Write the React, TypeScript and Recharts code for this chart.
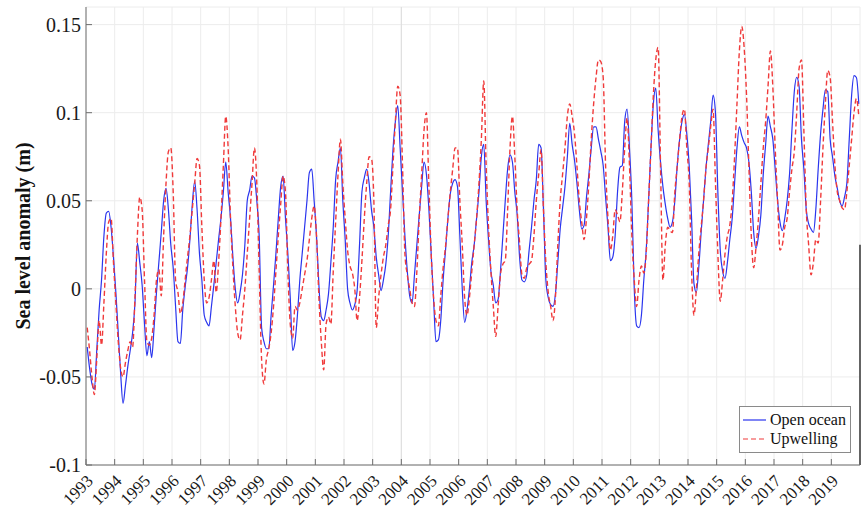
import { CartesianGrid, Line, LineChart, ReferenceLine, XAxis, YAxis } from 'recharts';

// monthly sea level anomaly (m), one row of 12 months per year
const YEARS = [
  1993, 1994, 1995, 1996, 1997, 1998, 1999, 2000, 2001, 2002, 2003, 2004, 2005, 2006,
  2007, 2008, 2009, 2010, 2011, 2012, 2013, 2014, 2015, 2016, 2017, 2018, 2019,
];

const OPEN_OCEAN = [
  [-0.033, -0.045, -0.054, -0.057, -0.035, -0.012, 0.005, 0.03, 0.043, 0.044, 0.035, 0.018],
  [-0.002, -0.025, -0.048, -0.065, -0.055, -0.044, -0.035, -0.025, -0.008, 0.026, 0.015, 0.002],
  [-0.02, -0.038, -0.03, -0.039, -0.022, -0.002, 0.015, 0.032, 0.05, 0.057, 0.045, 0.025],
  [0.012, -0.01, -0.03, -0.031, -0.012, 0.001, 0.012, 0.028, 0.048, 0.061, 0.045, 0.02],
  [0.005, -0.015, -0.019, -0.021, -0.01, 0.002, 0.015, 0.028, 0.04, 0.055, 0.072, 0.055],
  [0.04, 0.018, 0.0, -0.008, -0.002, 0.008, 0.025, 0.05, 0.056, 0.064, 0.063, 0.05],
  [0.03, -0.022, -0.03, -0.034, -0.034, -0.015, 0.002, 0.02, 0.04, 0.058, 0.064, 0.04],
  [0.02, -0.005, -0.035, -0.03, -0.015, 0.005, 0.02, 0.035, 0.05, 0.066, 0.068, 0.05],
  [0.03, 0.002, -0.016, -0.018, -0.012, -0.003, 0.015, 0.035, 0.062, 0.072, 0.08, 0.05],
  [0.028, 0.0, -0.008, -0.012, -0.009, -0.001, 0.025, 0.055, 0.063, 0.068, 0.06, 0.045],
  [0.035, 0.018, 0.008, -0.001, 0.005, 0.014, 0.03, 0.055, 0.079, 0.095, 0.104, 0.08],
  [0.055, 0.03, 0.01, -0.004, -0.008, 0.008, 0.025, 0.042, 0.058, 0.072, 0.065, 0.046],
  [0.02, -0.006, -0.03, -0.029, -0.018, 0.005, 0.022, 0.04, 0.054, 0.06, 0.062, 0.058],
  [0.03, 0.0, -0.019, -0.012, 0.0, 0.015, 0.025, 0.04, 0.055, 0.075, 0.082, 0.05],
  [0.028, 0.01, 0.002, -0.008, -0.006, 0.01, 0.03, 0.05, 0.068, 0.076, 0.072, 0.055],
  [0.042, 0.018, 0.005, 0.004, 0.008, 0.022, 0.035, 0.05, 0.062, 0.082, 0.08, 0.045],
  [0.005, -0.005, -0.009, -0.01, -0.003, 0.015, 0.034, 0.046, 0.058, 0.075, 0.094, 0.082],
  [0.073, 0.06, 0.045, 0.034, 0.036, 0.052, 0.065, 0.08, 0.092, 0.092, 0.085, 0.078],
  [0.07, 0.052, 0.035, 0.016, 0.018, 0.03, 0.055, 0.069, 0.07, 0.095, 0.102, 0.08],
  [0.05, 0.0, -0.021, -0.022, -0.015, 0.005, 0.022, 0.05, 0.08, 0.105, 0.114, 0.09],
  [0.072, 0.058, 0.048, 0.04, 0.035, 0.038, 0.05, 0.07, 0.085, 0.095, 0.099, 0.088],
  [0.07, 0.04, 0.003, -0.002, 0.012, 0.032, 0.05, 0.068, 0.082, 0.095, 0.11, 0.1],
  [0.055, 0.022, 0.01, 0.006, 0.015, 0.028, 0.04, 0.06, 0.08, 0.092, 0.087, 0.083],
  [0.08, 0.072, 0.055, 0.032, 0.023, 0.03, 0.042, 0.065, 0.082, 0.098, 0.092, 0.085],
  [0.068, 0.05, 0.038, 0.033, 0.04, 0.05, 0.065, 0.09, 0.112, 0.12, 0.115, 0.085],
  [0.068, 0.045, 0.037, 0.034, 0.032, 0.045, 0.068, 0.088, 0.102, 0.113, 0.112, 0.085],
  [0.075, 0.064, 0.057, 0.05, 0.047, 0.052, 0.06, 0.085, 0.11, 0.121, 0.12, 0.105],
];

const UPWELLING = [
  [-0.022, -0.035, -0.05, -0.06, -0.04, -0.018, -0.032, -0.008, 0.02, 0.038, 0.04, 0.015],
  [-0.008, -0.03, -0.045, -0.05, -0.042, -0.035, -0.03, -0.033, -0.005, 0.03, 0.052, 0.045],
  [0.005, -0.03, -0.032, -0.028, -0.015, 0.005, 0.011, -0.004, 0.03, 0.06, 0.078, 0.08],
  [0.055, 0.005, -0.002, -0.014, -0.008, 0.005, 0.018, 0.03, 0.045, 0.06, 0.074, 0.07],
  [0.035, 0.005, -0.008, -0.005, 0.005, 0.016, -0.002, 0.015, 0.04, 0.07, 0.098, 0.08],
  [0.04, 0.012, -0.01, -0.025, -0.029, -0.015, 0.0, 0.02, 0.04, 0.06, 0.08, 0.06],
  [0.01, -0.04, -0.054, -0.04, -0.034, -0.025, -0.01, 0.01, 0.03, 0.048, 0.064, 0.055],
  [0.01, -0.02, -0.028, -0.01, -0.012, -0.008, 0.0, 0.008, 0.016, 0.028, 0.04, 0.047],
  [0.03, -0.005, -0.03, -0.046, -0.02, -0.016, -0.02, 0.01, 0.038, 0.065, 0.085, 0.06],
  [0.04, 0.022, 0.013, 0.009, 0.0, -0.018, -0.005, 0.016, 0.04, 0.06, 0.075, 0.074],
  [0.05, -0.022, -0.005, 0.008, 0.018, 0.025, 0.036, 0.045, 0.07, 0.095, 0.115, 0.11],
  [0.07, 0.02, 0.008, 0.0, -0.008, -0.01, 0.01, 0.04, 0.065, 0.09, 0.1, 0.06],
  [0.02, -0.005, -0.018, -0.021, -0.004, 0.012, 0.024, 0.04, 0.055, 0.068, 0.08, 0.08],
  [0.05, 0.025, -0.005, -0.015, -0.005, 0.01, 0.025, 0.04, 0.06, 0.085, 0.118, 0.07],
  [0.035, 0.01, -0.01, -0.027, -0.01, 0.008, 0.014, 0.016, 0.045, 0.08, 0.098, 0.075],
  [0.045, 0.026, 0.008, 0.006, 0.012, 0.014, 0.016, 0.03, 0.05, 0.065, 0.079, 0.045],
  [0.015, -0.002, -0.01, -0.018, -0.005, 0.025, 0.05, 0.065, 0.08, 0.098, 0.105, 0.098],
  [0.088, 0.07, 0.05, 0.038, 0.028, 0.04, 0.06, 0.085, 0.105, 0.12, 0.13, 0.129],
  [0.12, 0.07, 0.04, 0.022, 0.03, 0.045, 0.042, 0.038, 0.055, 0.08, 0.097, 0.07],
  [0.03, 0.005, -0.01, 0.005, 0.013, 0.009, 0.02, 0.05, 0.08, 0.11, 0.13, 0.137],
  [0.07, 0.005, 0.025, 0.035, 0.033, 0.032, 0.055, 0.07, 0.085, 0.098, 0.102, 0.08],
  [0.06, 0.01, -0.015, 0.0, 0.02, 0.035, 0.05, 0.068, 0.08, 0.092, 0.102, 0.06],
  [0.02, -0.007, 0.005, 0.02, 0.03, 0.036, 0.05, 0.075, 0.105, 0.135, 0.149, 0.137],
  [0.11, 0.069, 0.03, 0.012, 0.024, 0.04, 0.06, 0.08, 0.095, 0.115, 0.135, 0.115],
  [0.08, 0.05, 0.022, 0.025, 0.035, 0.04, 0.055, 0.068, 0.078, 0.1, 0.125, 0.13],
  [0.09, 0.045, 0.025, 0.008, 0.015, 0.028, 0.026, 0.05, 0.08, 0.105, 0.124, 0.12],
  [0.095, 0.07, 0.055, 0.05, 0.046, 0.045, 0.055, 0.07, 0.085, 0.1, 0.108, 0.098],
];

const Y_TICKS = [-0.1, -0.05, 0, 0.05, 0.1, 0.15];

const SERIES = [
  { key: 'open', name: 'Open ocean', color: '#2a35ee', dash: undefined, width: 1.2 },
  { key: 'upwelling', name: 'Upwelling', color: '#f03a3a', dash: '5 3', width: 1.4 },
];

const SERIF = '"Liberation Serif", "DejaVu Serif", serif';

// each month sits at its mid point on the decimal-year axis
const rows = YEARS.flatMap((year, yi) =>
  OPEN_OCEAN[yi].map((v, m) => ({
    t: year + (m + 0.5) / 12,
    open: v,
    upwelling: UPWELLING[yi][m],
  })),
);

function YearTick({ x, y, payload }: any) {
  return (
    <text
      x={x + 8}
      y={y + 17}
      transform={`rotate(-45, ${x + 8}, ${y + 17})`}
      textAnchor="end"
      fontFamily={SERIF}
      fontSize={17}
      fill="#1a1a1a"
    >
      {payload.value}
    </text>
  );
}

function LegendBox() {
  return (
    <div
      style={{
        position: 'absolute',
        left: 739,
        top: 406,
        width: 110,
        padding: '3px 0 4px 0',
        border: '1px solid #8a8a8a',
        background: '#fff',
        fontFamily: SERIF,
        fontSize: 16,
        lineHeight: '19px',
        color: '#111',
      }}
    >
      {SERIES.map((s) => (
        <div key={s.key} style={{ display: 'flex', alignItems: 'center', height: 19 }}>
          <svg width={30} height={10}>
            <line x1={3} x2={26} y1={5} y2={5} stroke={s.color} strokeWidth={1.2} strokeDasharray={s.dash} />
          </svg>
          <span>{s.name}</span>
        </div>
      ))}
    </div>
  );
}

export default function App() {
  return (
    <div style={{ position: 'absolute', left: 0, top: 0, width: 862, height: 512, background: '#fff' }}>
      <LineChart width={862} height={512} data={rows} margin={{ top: 7, right: 2, left: 0, bottom: 0 }}>
        <CartesianGrid stroke="#ececec" strokeWidth={1} />
        <XAxis
          dataKey="t"
          type="number"
          domain={[1993, 2020]}
          ticks={YEARS}
          allowDataOverflow
          height={47}
          stroke="#6e6e6e"
          tickSize={-6}
          tickMargin={6}
          tick={<YearTick />}
          interval={0}
        />
        <XAxis
          xAxisId="top"
          orientation="top"
          dataKey="t"
          type="number"
          domain={[1993, 2020]}
          ticks={YEARS}
          height={0}
          stroke="#9a9a9a"
          tickSize={-6}
          tick={false}
        />
        <YAxis
          type="number"
          domain={[-0.1, 0.16]}
          ticks={Y_TICKS}
          allowDataOverflow
          width={86}
          stroke="#6e6e6e"
          tickSize={-6}
          tickMargin={11}
          tickFormatter={(v: number) => String(v)}
          tick={{ fontFamily: SERIF, fontSize: 20, fill: '#1a1a1a' }}
          label={{
            value: 'Sea level anomaly (m)',
            angle: -90,
            position: 'insideLeft',
            offset: 23,
            style: { fontFamily: SERIF, fontSize: 20, fontWeight: 'bold', fill: '#111', textAnchor: 'middle' },
          }}
        />
        <YAxis
          yAxisId="right"
          orientation="right"
          type="number"
          domain={[-0.1, 0.16]}
          ticks={Y_TICKS}
          width={0}
          stroke="#b5b5b5"
          tickSize={-6}
          tick={false}
        />
        <ReferenceLine x={2004} stroke="#dddddd" />
        <ReferenceLine
          segment={[
            { x: 2020, y: -0.1 },
            { x: 2020, y: 0.025 },
          ]}
          stroke="#333"
          strokeWidth={1.5}
          ifOverflow="visible"
        />
        {SERIES.map((s) => (
          <Line
            key={s.key}
            name={s.name}
            dataKey={s.key}
            type="monotone"
            stroke={s.color}
            strokeWidth={s.width}
            strokeDasharray={s.dash}
            dot={false}
            isAnimationActive={false}
          />
        ))}
      </LineChart>
      <LegendBox />
    </div>
  );
}
